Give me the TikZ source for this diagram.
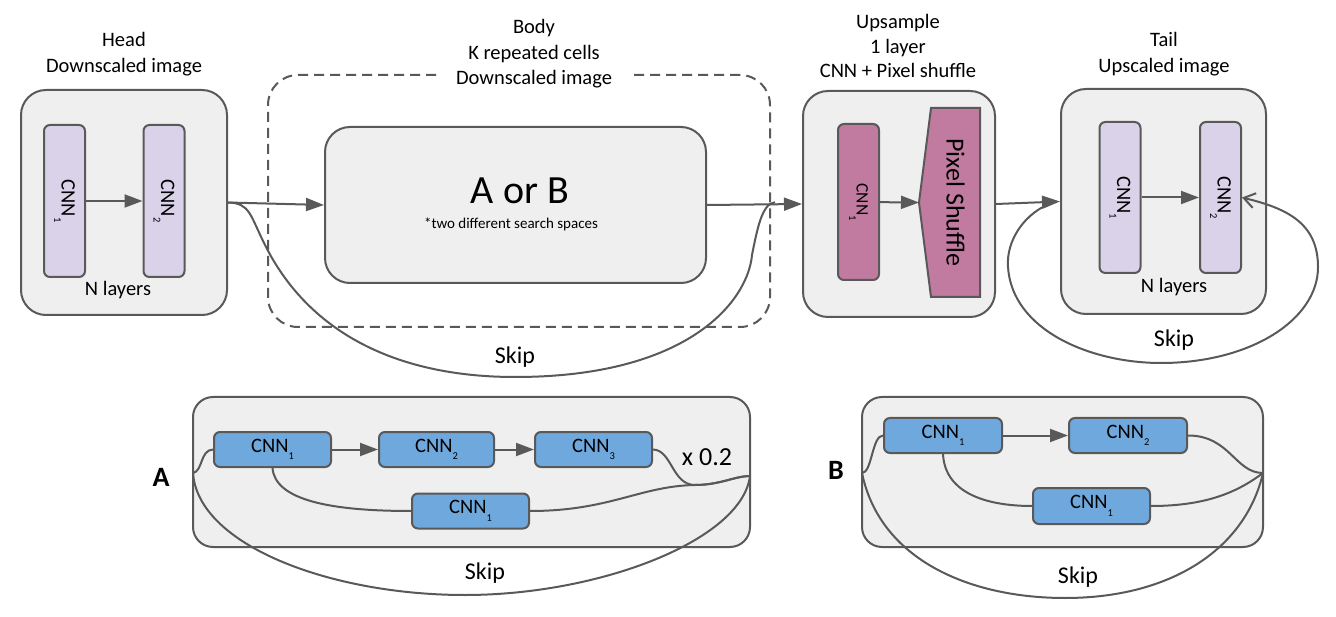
\documentclass[tikz,border=0pt]{standalone}
\usepackage{fontspec}
\setmainfont{Carlito}
\usetikzlibrary{arrows.meta}
\definecolor{linegray}{HTML}{595959}
\definecolor{boxgray}{HTML}{EFEFEF}
\definecolor{cellpurple}{HTML}{D9D2E9}
\definecolor{cellmagenta}{HTML}{C27BA0}
\definecolor{cellblue}{HTML}{6FA8DC}
\newcommand{\cnn}[1]{CNN\raisebox{-7.5pt}{\fontsize{10.5}{10.5}\selectfont #1}}
\begin{document}
\begin{tikzpicture}[
        x=1pt, y=-1pt,
        font=\fontsize{20.5}{26}\selectfont,
        line/.style={draw=linegray, line width=2pt},
        arrow/.style={line, -{Triangle[length=18pt, width=13pt]}},
        stage/.style={line, fill=boxgray, rounded corners=25pt, inner sep=0pt},
        cell/.style={line, rounded corners=6pt, inner sep=0pt},
        vcell/.style={cell, fill=cellpurple, minimum width=41pt, minimum height=152pt},
        hcell/.style={cell, fill=cellblue, minimum width=117pt, minimum height=35pt},
        title/.style={align=center},
        skiplabel/.style={font=\fontsize{24}{28}\selectfont},
        spacelabel/.style={font=\bfseries\fontsize{28}{32}\selectfont}
    ]
        \useasboundingbox (0,0) rectangle (1336,617);
        % Head, body, upsample and tail stages
        \node[title] (headtitle) at (124,54) {Head\\Downscaled image};
        \node[stage, minimum width=206pt, minimum height=225pt] (head) at (124,202.5) {};
        \node[vcell] (head1) at (64.5,201) {\rotatebox{-90}{\cnn{1}}};
        \node[vcell] (head2) at (164,201) {\rotatebox{-90}{\cnn{2}}};
        \node (headn) at (118,290) {N layers};
        \node[line, dash pattern=on 10pt off 6pt, rounded corners=30pt, minimum width=502pt, minimum height=252pt] (body) at (519,201) {};
        \node[title, fill=white, inner xsep=18pt, inner ysep=0pt, font=\fontsize{20.5}{25.5}\selectfont] (bodytitle) at (534,54) {Body\\K repeated cells\\Downscaled image};
        \node[stage, minimum width=381pt, minimum height=156pt] (aorb) at (515.5,205) {};
        \node[font=\fontsize{40}{44}\selectfont] (aorblabel) at (520,191) {A or B};
        \node[font=\fontsize{15}{18}\selectfont] (aorbnote) at (511,224) {*two different search spaces};
        \node[title, font=\fontsize{20.5}{24.5}\selectfont] (uptitle) at (898,46) {Upsample\\1 layer\\CNN + Pixel shuffle};
        \node[stage, minimum width=192pt, minimum height=226pt] (upsample) at (899,204) {};
        \node[vcell, fill=cellmagenta, minimum height=156pt, font=\fontsize{17.5}{20}\selectfont] (upcnn) at (858.5,202) {\rotatebox{-90}{\cnn{1}}};
        \draw[line, fill=cellmagenta] (931,108) -- (980,108) -- (980,297) -- (931,297) -- (919,202.5) -- cycle;
        \node[font=\fontsize{26}{30}\selectfont] (shuffle) at (955.5,202.5) {\rotatebox{-90}{Pixel Shuffle}};
        \coordinate (shuffletip) at (919,202.5);
        \node[title] (tailtitle) at (1164,54) {Tail\\Upscaled image};
        \node[stage, minimum width=205pt, minimum height=225pt] (tail) at (1163.5,201.5) {};
        \node[vcell, minimum height=151pt] (tail1) at (1120,197.5) {\rotatebox{-90}{\cnn{1}}};
        \node[vcell, minimum height=151pt] (tail2) at (1220.5,197.5) {\rotatebox{-90}{\cnn{2}}};
        \node (tailn) at (1174,287) {N layers};
        \draw[arrow] (head1) -- (head2);
        \draw[arrow] (head.east) -- (aorb.west);
        \draw[arrow] (aorb.east) -- (upsample.west);
        \draw[arrow] (upcnn) -- (shuffletip);
        \draw[arrow] (upsample.east) -- (tail.west);
        \draw[arrow] (tail1) -- (tail2);
        % skip connections round body and tail
        \coordinate (bodyjoin) at (775,202.3);
        \draw[line] (head.east) .. controls (250,203) and (250,215) .. (265,245)
            .. controls (310,335) and (400,377) .. (515,377)
            .. controls (690,377) and (748,300) .. (752,255)
            .. controls (757,230) and (762,203) .. (bodyjoin);
        \node[skiplabel] (bodyskip) at (515,357) {Skip};
        \coordinate (tailjoin) at (1054,202);
        \draw[line, -{Straight Barb[length=11pt, width=15pt]}] (tailjoin) .. controls (1025,212) and (1006,240) .. (1008,267)
            .. controls (1012,330) and (1090,363) .. (1161,363)
            .. controls (1250,363) and (1318,320) .. (1318,267)
            .. controls (1318,222) and (1285,208) .. (tail2.east);
        \node[skiplabel] (tailskip) at (1174,340) {Skip};
        % search space A
        \node[stage, rounded corners=20pt, minimum width=557pt, minimum height=150pt] (cellA) at (471.5,472) {};
        \node[spacelabel] (labelA) at (161,477.5) {A};
        \node[hcell] (a1) at (272.5,449.5) {\cnn{1}};
        \node[hcell, minimum width=115pt] (a2) at (436.5,449.5) {\cnn{2}};
        \node[hcell] (a3) at (593.5,449.5) {\cnn{3}};
        \node[hcell] (a4) at (470.5,511) {\cnn{1}};
        \node[font=\fontsize{26}{30}\selectfont] (scaleA) at (707,457.5) {x 0.2};
        \coordinate (splitA) at (193,473);
        \coordinate (mergeA) at (750,476);
        \draw[arrow] (a1) -- (a2);
        \draw[arrow] (a2) -- (a3);
        \draw[line] (splitA) .. controls (203,471) and (200,450) .. (a1.west);
        \draw[line] (a1.south) .. controls (275,500) and (330,511) .. (a4.west);
        \draw[line] (a3.east) .. controls (672,450) and (672,485) .. (695,485) .. controls (720,485) and (735,476) .. (mergeA);
        \draw[line] (a4.east) .. controls (610,511) and (640,486) .. (695,485) .. controls (720,485) and (735,476) .. (mergeA);
        \draw[line] (splitA) .. controls (198,545) and (330,595) .. (465,595) .. controls (600,595) and (742,540) .. (mergeA);
        \node[skiplabel] (skipA) at (485,573) {Skip};
        % search space B
        \node[stage, rounded corners=20pt, minimum width=401pt, minimum height=150pt] (cellB) at (1062.5,472) {};
        \node[spacelabel] (labelB) at (836,470) {B};
        \node[hcell, minimum width=118pt] (b1) at (943,435.5) {\cnn{1}};
        \node[hcell, minimum width=118pt] (b2) at (1128,435.5) {\cnn{2}};
        \node[hcell, minimum height=36pt] (b3) at (1091.5,506) {\cnn{1}};
        \coordinate (splitB) at (862,473);
        \coordinate (mergeB) at (1263,473);
        \draw[arrow] (b1) -- (b2);
        \draw[line] (splitB) .. controls (872,473) and (872,435.5) .. (b1.west);
        \draw[line] (b2.east) .. controls (1230,435.5) and (1235,473) .. (mergeB);
        \draw[line] (b1.south) .. controls (945,495) and (990,506) .. (b3.west);
        \draw[line] (b3.east) .. controls (1210,506) and (1240,490) .. (mergeB);
        \draw[line] (splitB) .. controls (880,560) and (970,598) .. (1065,598) .. controls (1170,598) and (1245,550) .. (mergeB);
        \node[skiplabel] (skipB) at (1078,577) {Skip};
    \end{tikzpicture}
\end{document}
